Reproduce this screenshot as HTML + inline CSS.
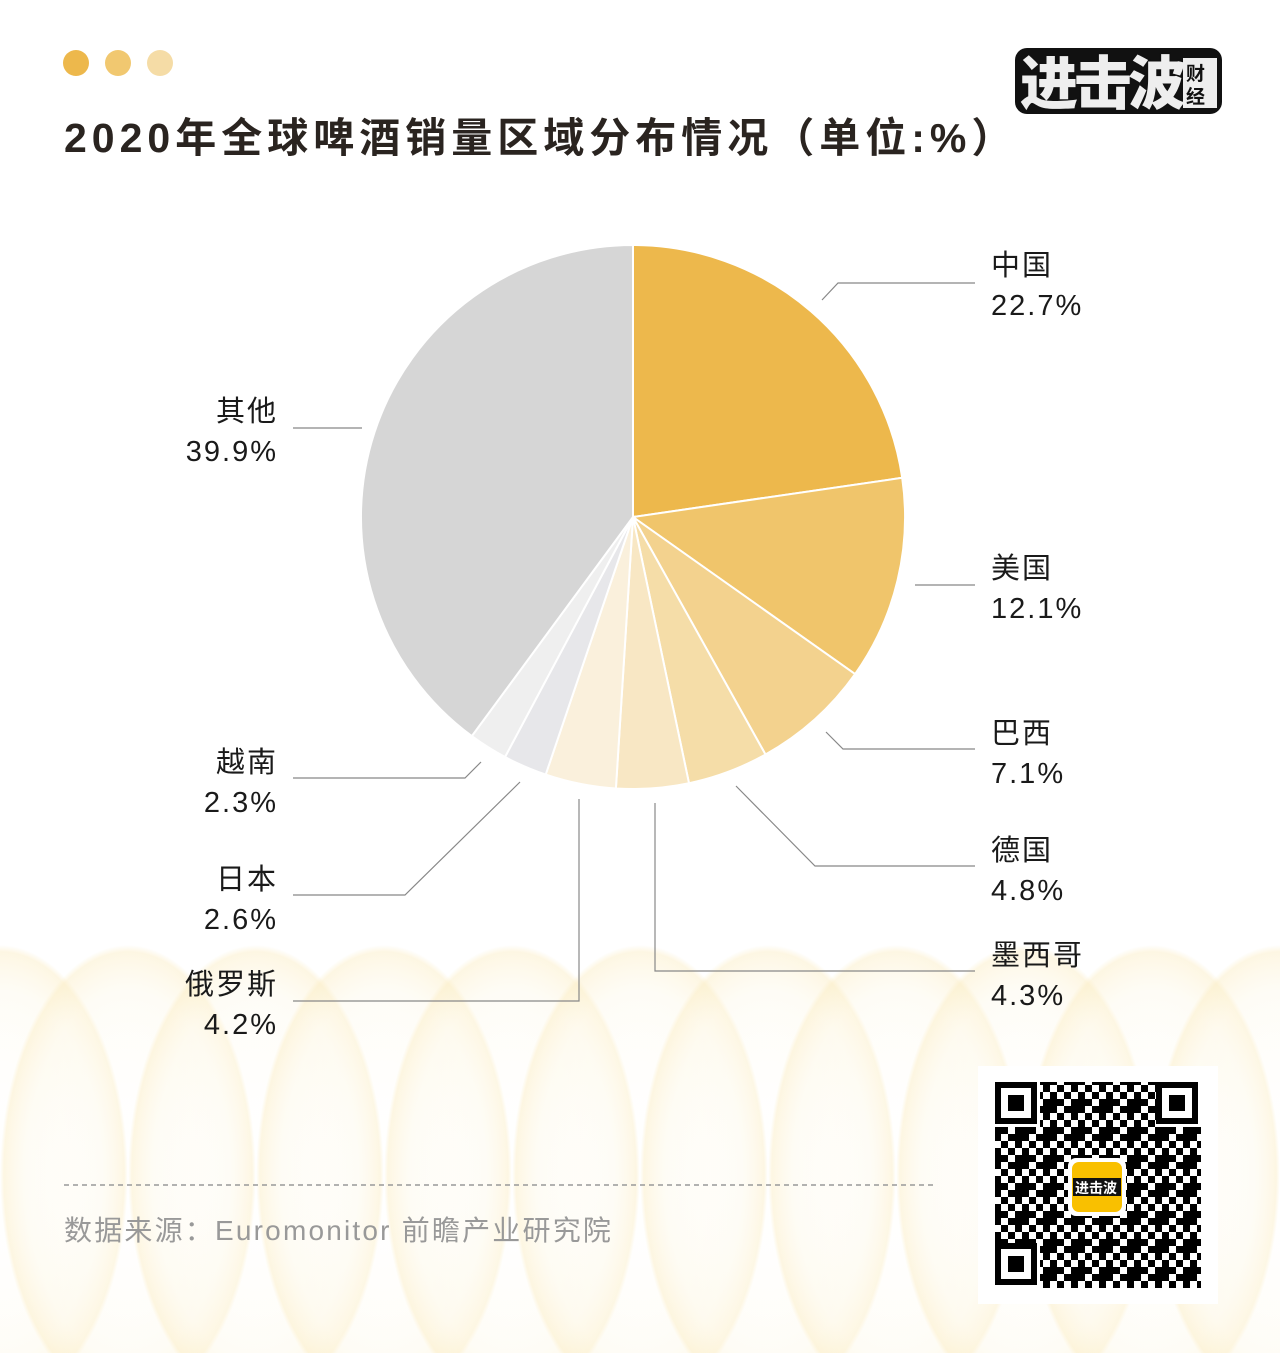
<!DOCTYPE html>
<html><head><meta charset="utf-8"><style>
html,body{margin:0;padding:0;background:#fff;}
body{width:1280px;height:1353px;overflow:hidden;position:relative;font-family:"Liberation Sans","Noto Sans CJK SC",sans-serif;}
</style></head><body>
<svg width="1280" height="1353" viewBox="0 0 1280 1353" xmlns="http://www.w3.org/2000/svg" style="position:absolute;left:0;top:0">
<defs>
<radialGradient id="lens" cx="0.5" cy="0.5" r="0.5">
<stop offset="0" stop-color="#fff" stop-opacity="0"/>
<stop offset="0.8" stop-color="#fdf6e0" stop-opacity="0.3"/>
<stop offset="0.97" stop-color="#fbecc0" stop-opacity="0.45"/>
<stop offset="1" stop-color="#fbecc0" stop-opacity="0"/>
</radialGradient>
</defs>
<g>
<ellipse cx="0" cy="1175" rx="128" ry="230" fill="url(#lens)"/>
<ellipse cx="128" cy="1175" rx="128" ry="230" fill="url(#lens)"/>
<ellipse cx="256" cy="1175" rx="128" ry="230" fill="url(#lens)"/>
<ellipse cx="384" cy="1175" rx="128" ry="230" fill="url(#lens)"/>
<ellipse cx="512" cy="1175" rx="128" ry="230" fill="url(#lens)"/>
<ellipse cx="640" cy="1175" rx="128" ry="230" fill="url(#lens)"/>
<ellipse cx="768" cy="1175" rx="128" ry="230" fill="url(#lens)"/>
<ellipse cx="896" cy="1175" rx="128" ry="230" fill="url(#lens)"/>
<ellipse cx="1024" cy="1175" rx="128" ry="230" fill="url(#lens)"/>
<ellipse cx="1152" cy="1175" rx="128" ry="230" fill="url(#lens)"/>
<ellipse cx="1280" cy="1175" rx="128" ry="230" fill="url(#lens)"/>
</g>
<circle cx="76" cy="63" r="13" fill="#EDB84C"/>
<circle cx="118" cy="63" r="13" fill="#F1C870"/>
<circle cx="160" cy="63" r="13" fill="#F5DCA6"/>
<text x="64" y="152" font-size="41" font-weight="bold" fill="#2a2420" letter-spacing="5">2020年全球啤酒销量区域分布情况（单位:%）</text>
<!-- logo -->
<rect x="1015" y="48" width="207" height="66" rx="12" fill="#111"/>
<text x="1020" y="104" font-size="58" font-weight="900" fill="#eee" stroke="#111" stroke-width="3" paint-order="stroke" letter-spacing="-4">进击波</text>
<rect x="1183" y="58" width="34" height="50" fill="#eee"/>
<text x="1186" y="80" font-size="19" font-weight="bold" fill="#111">财</text>
<text x="1186" y="103" font-size="19" font-weight="bold" fill="#111">经</text>
<!-- pie -->
<g stroke="#fff" stroke-width="2" stroke-linejoin="round">
<path d="M633,517 L633,245 A272,272 0 0 1 902.2,477.8 Z" fill="#EDB84C"/>
<path d="M633,517 L902.2,477.8 A272,272 0 0 1 855.1,674.1 Z" fill="#F0C56B"/>
<path d="M633,517 L855.1,674.1 A272,272 0 0 1 765.5,754.5 Z" fill="#F3D28E"/>
<path d="M633,517 L765.5,754.5 A272,272 0 0 1 689.0,783.2 Z" fill="#F5DDA8"/>
<path d="M633,517 L689.0,783.2 A272,272 0 0 1 615.9,788.5 Z" fill="#F8E7C4"/>
<path d="M633,517 L615.9,788.5 A272,272 0 0 1 545.7,774.6 Z" fill="#FAF0DC"/>
<path d="M633,517 L545.7,774.6 A272,272 0 0 1 505.0,757.0 Z" fill="#E7E7EA"/>
<path d="M633,517 L505.0,757.0 A272,272 0 0 1 471.8,736.1 Z" fill="#EFEFEF"/>
<path d="M633,517 L471.8,736.1 A272,272 0 0 1 633,245 Z" fill="#D6D6D6"/>
</g>
<g stroke="#888" stroke-width="1.2" fill="none">
<polyline points="822,300 838,283 975,283"/>
<polyline points="293,428 362,428"/>
<polyline points="915,585 975,585"/>
<polyline points="826,732 843,749 975,749"/>
<polyline points="736,786 815,866 975,866"/>
<polyline points="655,803 655,971 975,971"/>
<polyline points="579,799 579,1001 293,1001"/>
<polyline points="520,782 405,895 293,895"/>
<polyline points="481,762 465,778 293,778"/>
</g>
<g font-size="29" fill="#1a1a1a" letter-spacing="2">
<text x="991" y="275">中国</text><text x="991" y="315">22.7%</text>
<text x="991" y="578">美国</text><text x="991" y="618">12.1%</text>
<text x="991" y="743">巴西</text><text x="991" y="783">7.1%</text>
<text x="991" y="860">德国</text><text x="991" y="900">4.8%</text>
<text x="991" y="965">墨西哥</text><text x="991" y="1005">4.3%</text>
</g>
<g font-size="29" fill="#1a1a1a" text-anchor="end" letter-spacing="2">
<text x="278" y="421">其他</text><text x="278" y="461">39.9%</text>
<text x="278" y="772">越南</text><text x="278" y="812">2.3%</text>
<text x="278" y="889">日本</text><text x="278" y="929">2.6%</text>
<text x="278" y="994">俄罗斯</text><text x="278" y="1034">4.2%</text>
</g>
<line x1="64" y1="1185" x2="935" y2="1185" stroke="#999" stroke-width="1.5" stroke-dasharray="5,4"/>
<text x="64" y="1240" font-size="28" fill="#999" letter-spacing="2.2">数据来源：Euromonitor 前瞻产业研究院</text>
<!-- QR -->
<rect x="978" y="1066" width="240" height="238" fill="#fff"/>
<defs>
<pattern id="qr" width="28" height="28" patternUnits="userSpaceOnUse">
<rect x="0" y="0" width="7" height="7" fill="#000"/><rect x="14" y="0" width="7" height="14" fill="#000"/>
<rect x="7" y="7" width="7" height="7" fill="#000"/><rect x="21" y="7" width="7" height="7" fill="#000"/>
<rect x="0" y="14" width="14" height="7" fill="#000"/><rect x="21" y="21" width="7" height="7" fill="#000"/>
<rect x="7" y="21" width="7" height="7" fill="#000"/><rect x="14" y="14" width="7" height="7" fill="#000"/>
</pattern>
</defs>
<rect x="995" y="1082" width="206" height="206" fill="url(#qr)"/>
<g fill="#fff"><rect x="995" y="1082" width="45" height="45"/><rect x="1156" y="1082" width="45" height="45"/><rect x="995" y="1243" width="45" height="45"/></g>
<g fill="none" stroke="#000" stroke-width="6">
<rect x="998" y="1085" width="36" height="36"/><rect x="1159" y="1085" width="36" height="36"/><rect x="998" y="1246" width="36" height="36"/>
</g>
<g fill="#000"><rect x="1008" y="1095" width="16" height="16"/><rect x="1169" y="1095" width="16" height="16"/><rect x="1008" y="1256" width="16" height="16"/></g>
<rect x="1068" y="1158" width="58" height="58" rx="8" fill="#fff"/>
<rect x="1072" y="1162" width="50" height="50" rx="7" fill="#F9C000"/>
<rect x="1073" y="1178" width="48" height="18" fill="#111"/>
<text x="1075" y="1193" font-size="14" font-weight="bold" fill="#fff">进击波</text>
</svg>
</body></html>
